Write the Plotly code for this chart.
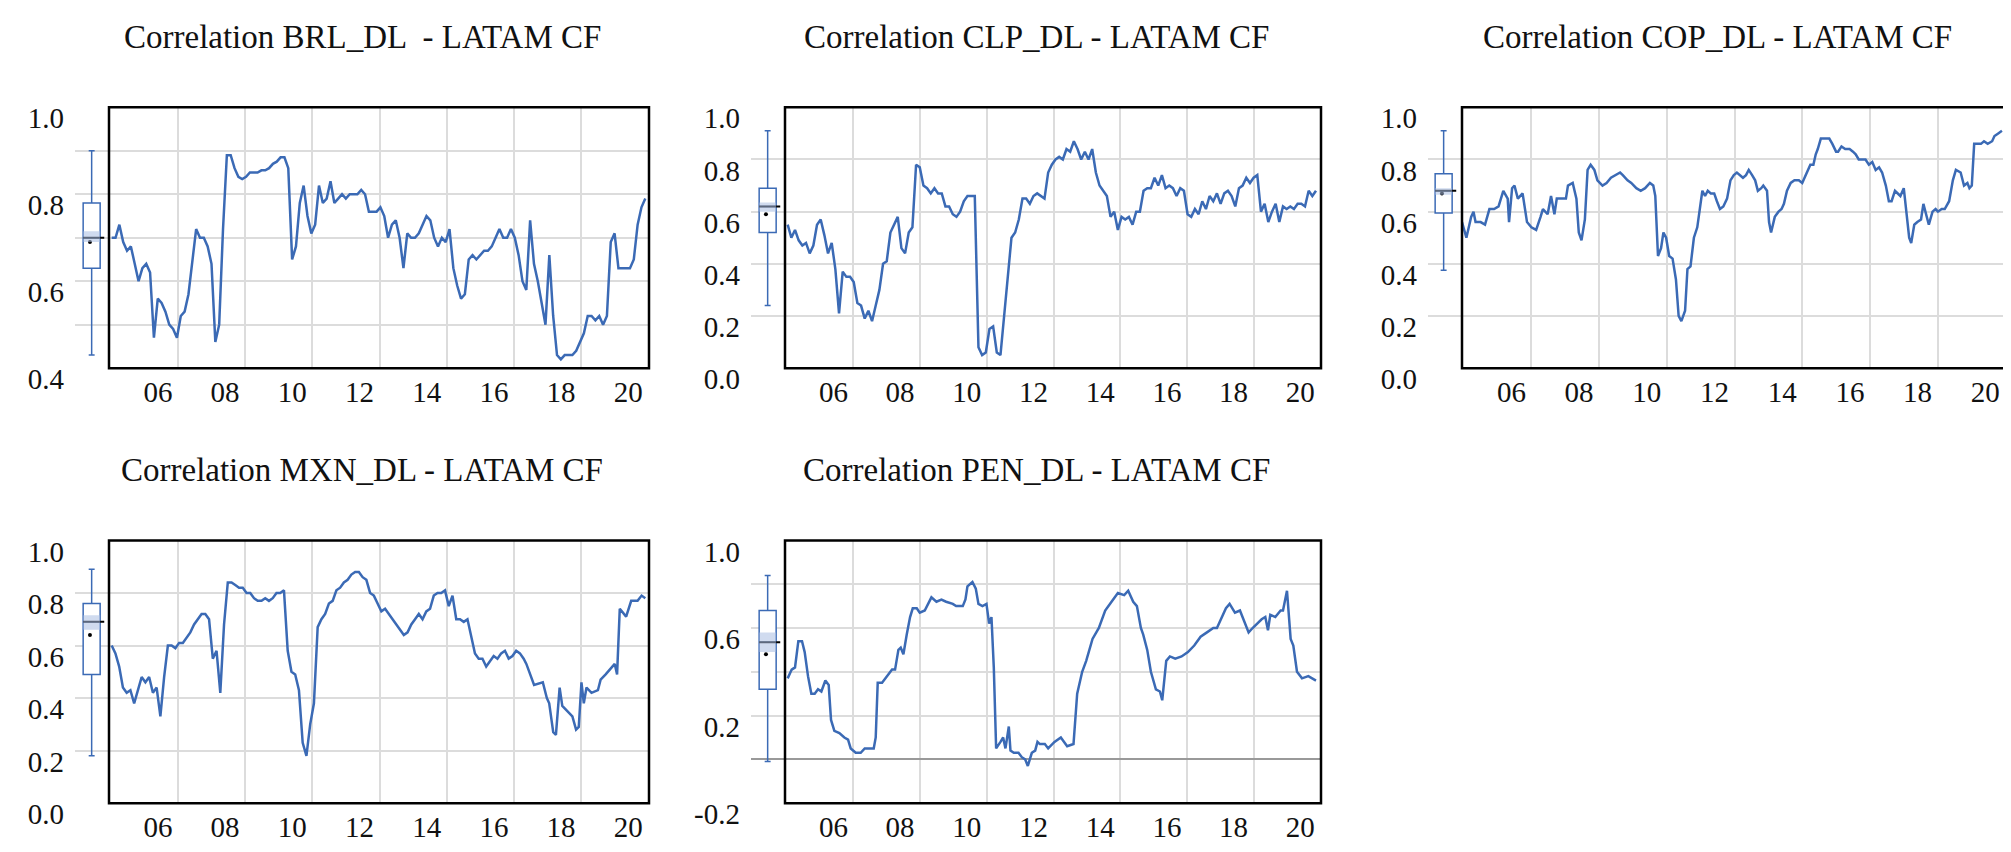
import numpy as np
import plotly.graph_objects as go

# ---- data ----
titles = ["Correlation BRL_DL  - LATAM CF", "Correlation CLP_DL - LATAM CF",
          "Correlation COP_DL - LATAM CF", "Correlation MXN_DL - LATAM CF",
          "Correlation PEN_DL - LATAM CF"]

brl_vals = [.70, .70, .73, .69, .67, .68, .64, .60, .63, .64, .62, .47, .56, .55, .53, .50, .49, .47, .52, .53,
            .57, .64, .72, .70, .70, .68, .64, .46, .50, .72, .89, .89, .86, .84, .835, .84, .85, .85, .85, .855,
            .855, .86, .87, .875, .885, .885, .86, .65, .68, .78, .82, .75, .71, .73, .82, .78, .79, .83, .78, .79,
            .80, .79, .80, .80, .80, .81, .80, .76, .76, .76, .77, .75, .70, .73, .74, .70, .63, .71, .70, .70,
            .71, .73, .75, .74, .70, .68, .70, .69, .72, .63, .59, .56, .57, .65, .66, .65, .66, .67, .67, .68,
            .70, .72, .70, .70, .72, .70, .66, .60, .58, .74, .64, .60, .55, .50, .66, .52, .43, .42, .43, .43,
            .43, .44, .46, .48, .52, .52, .51, .52, .50, .52, .69, .71, .63, .63, .63, .63, .65, .73, .77, .79]

clp_vals = [.55, .50, .53, .49, .47, .48, .44, .47, .55, .57, .51, .44, .48, .38, .21, .37, .35, .35, .33, .25,
            .24, .19, .22, .18, .24, .30, .40, .41, .52, .55, .58, .46, .44, .52, .54, .78, .77, .70, .69, .67,
            .69, .67, .67, .62, .62, .59, .58, .60, .64, .66, .66, .66, .08, .05, .06, .15, .16, .06, .05, .20,
            .33, .50, .52, .57, .65, .65, .63, .66, .67, .66, .65, .75, .78, .80, .81, .80, .84, .83, .87, .84,
            .80, .83, .80, .84, .75, .70, .68, .66, .58, .60, .53, .58, .57, .58, .55, .60, .60, .68, .69, .69,
            .73, .70, .74, .69, .70, .69, .66, .69, .68, .59, .58, .61, .59, .64, .61, .66, .64, .67, .63, .67,
            .68, .66, .62, .69, .70, .73, .71, .73, .74, .60, .63, .56, .60, .63, .56, .62, .61, .62, .61, .63,
            .63, .62, .68, .66, .68]

cop_t = [2004.55, 2004.68, 2004.82, 2004.89, 2004.95, 2005.1, 2005.23, 2005.36, 2005.5, 2005.63, 2005.77,
         2005.9, 2005.94, 2006.03, 2006.1, 2006.2, 2006.34, 2006.47, 2006.6, 2006.74, 2006.87, 2006.94, 2007.08,
         2007.18, 2007.28, 2007.35, 2007.48, 2007.62, 2007.68, 2007.82, 2007.93, 2008.0, 2008.08, 2008.18,
         2008.26, 2008.35, 2008.46, 2008.55, 2008.7, 2008.82, 2008.95, 2009.1, 2009.22, 2009.3, 2009.44, 2009.55,
         2009.7, 2009.83, 2009.96, 2010.1, 2010.2, 2010.26, 2010.34, 2010.43, 2010.5, 2010.58, 2010.67, 2010.77,
         2010.87, 2010.95, 2011.03, 2011.14, 2011.21, 2011.3, 2011.4, 2011.5, 2011.57, 2011.65, 2011.73, 2011.81,
         2011.9, 2012.0, 2012.08, 2012.17, 2012.27, 2012.38, 2012.48, 2012.58, 2012.67, 2012.75, 2012.85, 2012.94,
         2013.02, 2013.12, 2013.21, 2013.29, 2013.39, 2013.45, 2013.56, 2013.62, 2013.68, 2013.79, 2013.9, 2013.99,
         2014.06, 2014.15, 2014.26, 2014.37, 2014.5, 2014.6, 2014.73, 2014.84, 2014.93, 2015.0, 2015.06, 2015.15,
         2015.26, 2015.4, 2015.49, 2015.6, 2015.66, 2015.76, 2015.87, 2016.0, 2016.1, 2016.18, 2016.27, 2016.38,
         2016.47, 2016.57, 2016.67, 2016.77, 2016.87, 2016.96, 2017.07, 2017.16, 2017.24, 2017.34, 2017.43, 2017.5,
         2017.6, 2017.68, 2017.76, 2017.82, 2017.91, 2018.0, 2018.11, 2018.18, 2018.25, 2018.34, 2018.45, 2018.54,
         2018.61, 2018.72, 2018.81, 2018.94, 2019.05, 2019.14, 2019.28, 2019.38, 2019.48, 2019.54, 2019.61,
         2019.68, 2019.77, 2019.88, 2019.97, 2020.08, 2020.21, 2020.28, 2020.39, 2020.5]
cop_vals = [.56, .50, .58, .60, .56, .56, .55, .61, .61, .62, .68, .65, .56, .69, .70, .65, .67, .56, .54, .53,
            .58, .61, .59, .66, .59, .65, .65, .65, .70, .71, .65, .52, .49, .57, .76, .78, .76, .72, .70, .71,
            .73, .74, .75, .74, .72, .71, .69, .68, .69, .71, .70, .66, .43, .46, .52, .50, .43, .42, .34, .20,
            .18, .22, .38, .39, .50, .54, .60, .68, .66, .68, .67, .67, .64, .61, .62, .65, .72, .74, .75, .74,
            .73, .74, .76, .74, .72, .68, .69, .70, .68, .56, .52, .58, .60, .61, .63, .68, .71, .72, .72, .71,
            .75, .78, .78, .82, .84, .88, .88, .88, .86, .83, .83, .85, .84, .84, .83, .82, .80, .80, .80, .78,
            .79, .76, .77, .75, .70, .64, .64, .68, .67, .66, .69, .59, .50, .48, .55, .56, .57, .63, .59, .55,
            .60, .61, .60, .61, .61, .64, .72, .76, .75, .70, .71, .69, .70, .86, .86, .86, .87, .86, .87, .89,
            .90, .91]

mxn_head = [.60, .57, .52, .44, .42, .43, .38, .43, .48, .46, .48, .42, .44, .33, .48, .60, .60, .59, .61, .61,
            .63, .65, .68, .70, .72, .72, .70, .55, .58, .42, .68, .84, .84, .83, .82, .82, .80, .80, .78, .77,
            .77, .78, .77, .78, .80, .80, .81, .58, .50, .49, .43, .23, .18, .30, .38, .67, .70, .72, .76, .77,
            .81, .82, .84, .85, .87, .88, .88, .86, .85, .80, .79, .76, .73, .74, .72, .70, .68, .66, .64, .65,
            .68, .70, .72, .70, .73, .74, .79, .80, .80, .81, .75, .79, .70, .70, .69, .70, .63, .57, .55, .55,
            .52, .54, .56, .55, .57, .58, .55, .56, .58, .57, .55]
mxn_tail_t = [2016.97, 2017.08, 2017.2, 2017.46, 2017.58, 2017.65, 2017.77, 2017.85, 2017.96, 2018.04, 2018.19,
              2018.34, 2018.45, 2018.53, 2018.61, 2018.68, 2018.76, 2018.91, 2019.1, 2019.18, 2019.33, 2019.48,
              2019.6, 2019.67, 2019.75, 2019.94, 2020.09, 2020.28, 2020.4, 2020.51]
mxn_tail = [.53, .49, .45, .46, .40, .38, .27, .26, .44, .37, .35, .33, .28, .29, .46, .38, .44, .42, .43, .47,
            .49, .51, .53, .49, .74, .71, .77, .77, .79, .78]

pen_t = [2004.63, 2004.75, 2004.85, 2004.95, 2005.06, 2005.14, 2005.24, 2005.34, 2005.44, 2005.54, 2005.64,
         2005.76, 2005.86, 2005.93, 2006.03, 2006.18, 2006.33, 2006.44, 2006.52, 2006.67, 2006.82, 2006.94,
         2007.12, 2007.21, 2007.27, 2007.33, 2007.46, 2007.61, 2007.76, 2007.85, 2007.95, 2008.02, 2008.1, 2008.2,
         2008.3, 2008.38, 2008.5, 2008.59, 2008.74, 2008.94, 2009.09, 2009.24, 2009.38, 2009.58, 2009.68, 2009.88,
         2009.96, 2010.02, 2010.17, 2010.27, 2010.35, 2010.47, 2010.59, 2010.67, 2010.74, 2010.81, 2010.88,
         2011.01, 2011.09, 2011.16, 2011.26, 2011.31, 2011.41, 2011.55, 2011.65, 2011.75, 2011.83, 2011.95,
         2012.05, 2012.12, 2012.19, 2012.34, 2012.44, 2012.63, 2012.82, 2013.01, 2013.2, 2013.31, 2013.46,
         2013.58, 2013.77, 2013.96, 2014.15, 2014.34, 2014.53, 2014.72, 2014.84, 2014.99, 2015.1, 2015.22,
         2015.29, 2015.41, 2015.52, 2015.67, 2015.79, 2015.86, 2015.98, 2016.09, 2016.25, 2016.44, 2016.63,
         2016.82, 2017.01, 2017.2, 2017.39, 2017.5, 2017.62, 2017.77, 2017.88, 2018.04, 2018.19, 2018.34,
         2018.45, 2018.57, 2018.72, 2018.84, 2018.95, 2019.03, 2019.1, 2019.25, 2019.41, 2019.48, 2019.6,
         2019.71, 2019.79, 2019.9, 2020.05, 2020.24, 2020.47]
pen_vals = [.37, .41, .42, .54, .54, .49, .38, .30, .30, .32, .31, .36, .34, .18, .13, .12, .10, .09, .05, .03,
            .03, .05, .05, .05, .10, .35, .35, .38, .41, .41, .50, .51, .48, .57, .65, .69, .69, .67, .68, .74,
            .72, .73, .72, .71, .70, .70, .73, .79, .81, .78, .71, .70, .71, .62, .65, .42, .05, .08, .10, .05,
            .15, .04, .03, .03, .01, .00, -.03, .03, .04, .08, .07, .07, .05, .08, .10, .06, .07, .30, .40,
            .45, .55, .60, .68, .72, .76, .75, .77, .72, .70, .60, .57, .50, .40, .32, .31, .27, .45, .47,
            .46, .47, .49, .52, .56, .58, .60, .60, .64, .69, .71, .67, .68, .62, .58, .60, .62, .64, .65,
            .59, .66, .65, .68, .68, .77, .55, .52, .40, .37, .38, .36]

# box summaries: lower whisker, q1, median, q3, upper whisker, mean, median band lo/hi
box_lo = [.43, .24, .375, .18, -.01]
box_q1 = [.63, .52, .595, .49, .32]
box_med = [.70, .62, .68, .69, .535]
box_q3 = [.78, .69, .745, .76, .68]
box_hi = [.90, .91, .91, .89, .84]
box_mean = [.69, .59, .67, .64, .48]
band_lo = [.69, .60, .665, .66, .49]
band_hi = [.715, .635, .69, .715, .58]

y_ranges = [[0.4, 1.0], [0.0, 1.0], [0.0, 1.0], [0.0, 1.0], [-0.2, 1.0]]
y_labels = [[0.4, 0.6, 0.8, 1.0], [0.0, 0.2, 0.4, 0.6, 0.8, 1.0], [0.0, 0.2, 0.4, 0.6, 0.8, 1.0],
            [0.0, 0.2, 0.4, 0.6, 0.8, 1.0], [-0.2, 0.2, 0.6, 1.0]]
y_minor = [0.1, 0.2, 0.2, 0.2, 0.2]

year_ticks = list(range(2006, 2021, 2))
year_labels = ["%02d" % (y % 100) for y in year_ticks]

series_t = [np.linspace(2004.63, 2020.51, len(brl_vals)),
            np.linspace(2004.63, 2020.47, len(clp_vals)),
            np.array(cop_t),
            np.concatenate([np.linspace(2004.63, 2016.89, len(mxn_head)), mxn_tail_t]),
            np.array(pen_t)]
series_v = [brl_vals, clp_vals, cop_vals, mxn_head + mxn_tail, pen_vals]

# ---- layout geometry (paper fractions) ----
W, H = 2011, 852
cols = [(67, 101, 641), (743, 777, 1313), (1420, 1454, 1998)]  # grid start, frame left, frame right
rows = [(98, 369), (548, 821)]
title_y = [25, 475]
box_center = [0.49, 0.49, 0.46, 0.49, 0.49]
box_w = 0.5

BLUE = "#3b6ab5"
GRID = "#dcdcdc"
FONT = "Liberation Serif, Palatino Linotype, serif"


def ax_id(letter, n):
    return letter if n == 1 else "%s%d" % (letter, n)


fig = go.Figure()
layout = dict(width=W, height=H, paper_bgcolor="white", plot_bgcolor="white",
              showlegend=False, margin=dict(l=0, r=0, t=0, b=0),
              font=dict(family=FONT, size=29, color="#111111"))
annotations, shapes = [], []

for i in range(5):
    r, c = divmod(i, 3)
    gs, fl, fr = cols[c]
    top, bot = rows[r]
    xm, xb, ya = ax_id("x", 2 * i + 1), ax_id("x", 2 * i + 2), ax_id("y", i + 1)
    ydom = [1 - bot / H, 1 - top / H]

    layout["xaxis%d" % (2 * i + 1)] = dict(
        domain=[fl / W, fr / W], anchor=ya, range=[2004.55, 2020.62],
        tickvals=[y + 0.6 for y in year_ticks], ticktext=year_labels, ticks="",
        ticklabelshift=-20, ticklabelstandoff=4,
        showgrid=True, gridcolor=GRID, gridwidth=1.5, showline=False, zeroline=False)
    layout["xaxis%d" % (2 * i + 2)] = dict(
        domain=[gs / W, fl / W], anchor=ya, range=[0, 1],
        showgrid=False, showticklabels=False, ticks="", zeroline=False, showline=False)
    ylab = y_labels[i]
    layout["yaxis%d" % (i + 1)] = dict(
        domain=ydom, anchor=xb, range=y_ranges[i],
        tickvals=ylab, ticktext=["%.1f" % v for v in ylab], ticks="",
        ticklabelshift=11, ticklabelstandoff=10,
        showgrid=True, gridcolor=GRID, gridwidth=1.5,
        minor=dict(dtick=y_minor[i], tick0=y_ranges[i][0], showgrid=True, gridcolor=GRID, gridwidth=1.5),
        zeroline=(i == 4), zerolinecolor="#999999", zerolinewidth=1.5,
        showline=False)

    fig.add_trace(go.Scatter(x=series_t[i], y=series_v[i], mode="lines", xaxis=xm, yaxis=ya,
                             line=dict(color=BLUE, width=2.5), hoverinfo="skip"))

    # frame around the main plot area
    shapes.append(dict(type="rect", xref=xm + " domain", yref=ya + " domain", x0=0, x1=1, y0=0, y1=1,
                       line=dict(color="black", width=2.5), fillcolor="rgba(0,0,0,0)", layer="above"))

    bc = box_center[i]
    fig.add_trace(go.Box(x=[bc], q1=[box_q1[i]], median=[box_med[i]], q3=[box_q3[i]],
                         lowerfence=[box_lo[i]], upperfence=[box_hi[i]], width=box_w,
                         whiskerwidth=0.35, fillcolor="white",
                         line=dict(color=BLUE, width=1.5), xaxis=xb, yaxis=ya, hoverinfo="skip"))
    shapes.append(dict(type="rect", xref=xb, yref=ya, x0=bc - box_w / 2, x1=bc + box_w / 2,
                       y0=band_lo[i], y1=band_hi[i], fillcolor="rgba(170,190,225,0.55)",
                       line=dict(width=0), layer="above"))
    fig.add_trace(go.Scatter(x=[bc - box_w / 2, bc + box_w / 2 + 0.12], y=[box_med[i]] * 2, mode="lines",
                             line=dict(color="black", width=2), xaxis=xb, yaxis=ya, hoverinfo="skip"))
    fig.add_trace(go.Scatter(x=[bc - 0.05], y=[box_mean[i]], mode="markers",
                             marker=dict(color="black", size=4), xaxis=xb, yaxis=ya, hoverinfo="skip"))

    annotations.append(dict(text=titles[i], xref="paper", yref="paper",
                            x=(gs + fr) / 2 / W, y=1 - title_y[r] / H, showarrow=False,
                            xanchor="center", yanchor="middle", font=dict(size=33, family=FONT)))

layout["annotations"] = annotations
layout["shapes"] = shapes
fig.update_layout(**layout)
fig.write_html("out.html")
